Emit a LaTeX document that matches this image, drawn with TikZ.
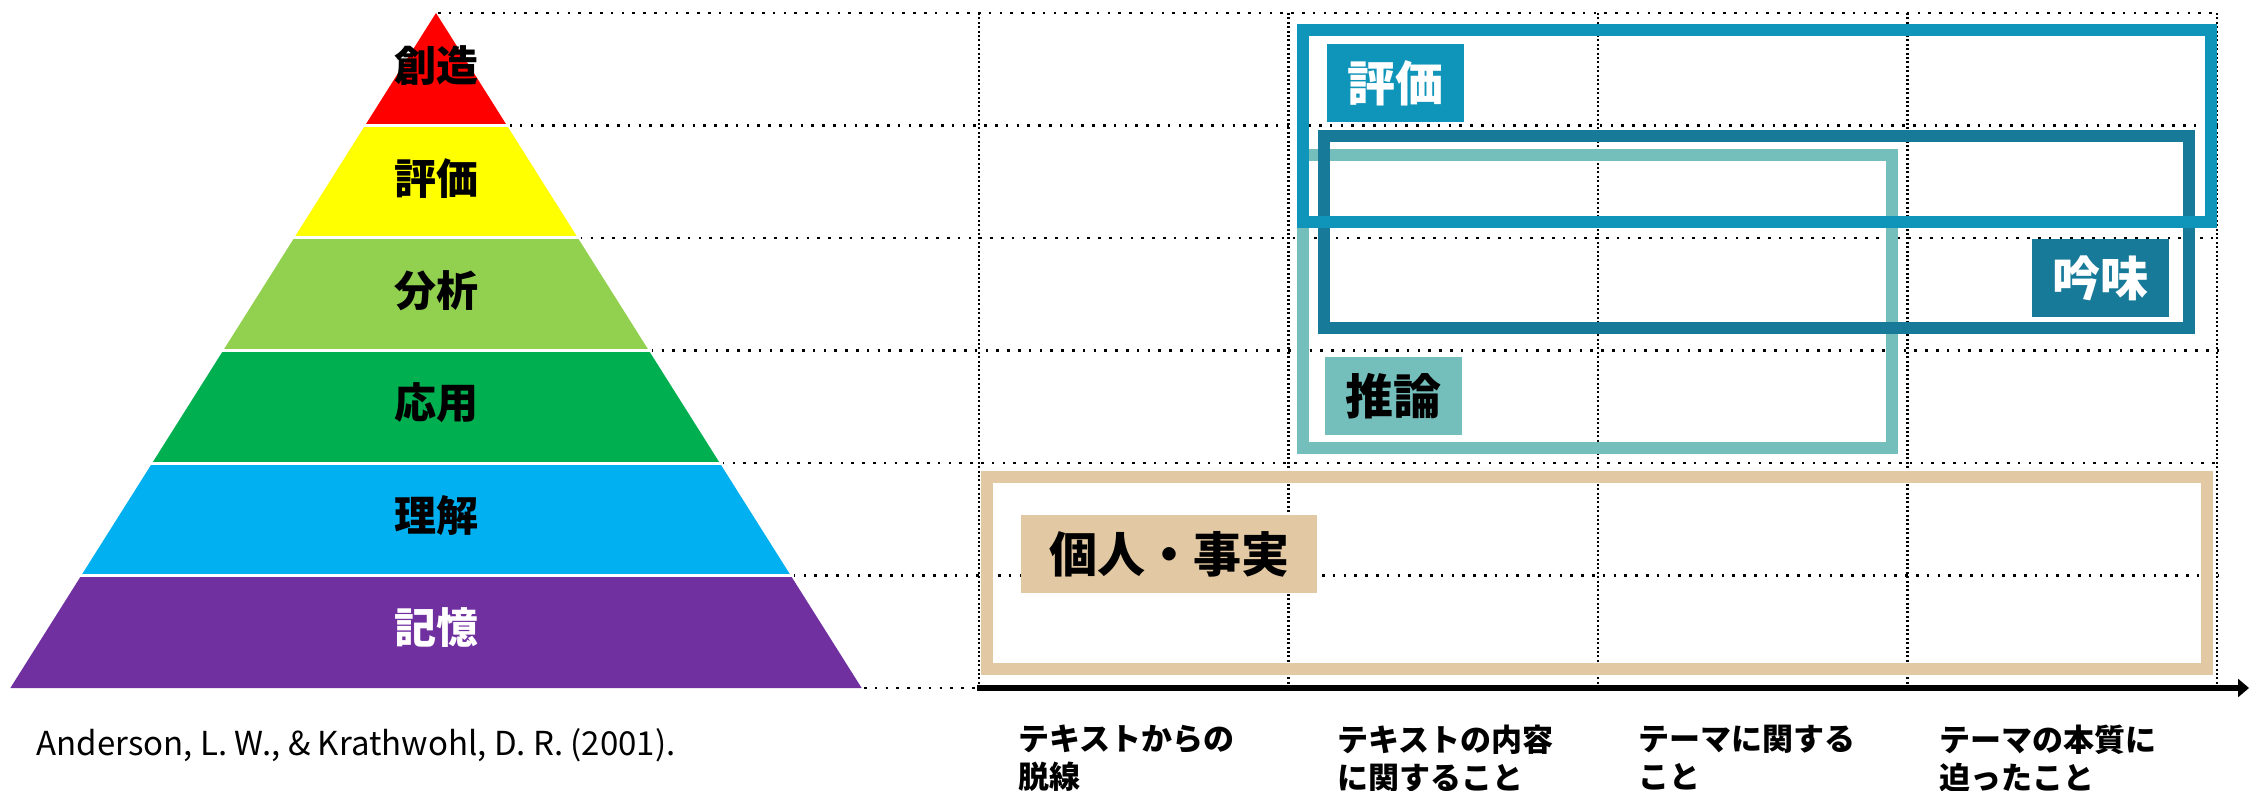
\documentclass[tikz,border=0pt]{standalone}
\usepackage{fontspec}
\setmainfont{Noto Sans CJK JP}
\usetikzlibrary{arrows.meta}
\definecolor{pRed}{HTML}{FF0000}
\definecolor{pYellow}{HTML}{FFFF00}
\definecolor{pLGreen}{HTML}{92D050}
\definecolor{pGreen}{HTML}{00B050}
\definecolor{pBlue}{HTML}{00B0F0}
\definecolor{pPurple}{HTML}{7030A0}
\definecolor{cEval}{HTML}{1095BA}
\definecolor{cGinmi}{HTML}{177A99}
\definecolor{cSuiron}{HTML}{74BEBB}
\definecolor{cTan}{HTML}{E3C9A3}
\begin{document}
\begin{tikzpicture}[x=0.5pt,y=-0.5pt,
  hdot/.style={line width=1.25pt,dash pattern=on 1.3pt off 4.1pt,black},
  vdot/.style={line width=1.1pt,dash pattern=on 1pt off 1.2pt,black},
  layerlabel/.style={font=\fontsize{21}{25}\selectfont\bfseries,inner sep=0pt},
  frame/.style={line width=6pt},
  tag/.style={minimum width=68.5pt,minimum height=39pt,inner sep=0pt,font=\fontsize{24}{28}\selectfont\bfseries},
  axislabel/.style={anchor=north west,align=left,inner sep=0pt,font=\fontsize{15.5}{19}\selectfont\bfseries}]
\useasboundingbox (0,0) rectangle (2249,791);
% grid
\foreach \i in {0,...,5}{
  \pgfmathsetmacro\yy{13+112.5*\i}
  \pgfmathsetmacro\ww{0.6306*112.5*\i}
  \draw[hdot] (436+\ww+2,\yy) -- (2219,\yy);
}
\draw[hdot] (864,688) -- (979,688);
\foreach \xx in {979,1288.5,1598,1907.5,2217}{
  \draw[vdot] (\xx,13) -- (\xx,686);
}
% pyramid
\foreach \i/\c in {0/pRed,1/pYellow,2/pLGreen,3/pGreen,4/pBlue,5/pPurple}{
  \pgfmathsetmacro\ya{13+112.5*\i}
  \pgfmathsetmacro\yb{13+112.5*(\i+1)}
  \pgfmathsetmacro\wa{0.6306*112.5*\i}
  \pgfmathsetmacro\wb{0.6306*112.5*(\i+1)}
  \fill[\c] (436-\wa,\ya) -- (436+\wa,\ya) -- (436+\wb,\yb) -- (436-\wb,\yb) -- cycle;
}
\foreach \i in {1,...,5}{
  \pgfmathsetmacro\yy{13+112.5*\i}
  \pgfmathsetmacro\ww{0.6306*112.5*\i}
  \draw[white,line width=1.5pt] (436-\ww-3,\yy) -- (436+\ww+3,\yy);
}
\node[layerlabel] (l1) at (436,66) {創造};
\node[layerlabel] (l2) at (436,178.5) {評価};
\node[layerlabel] (l3) at (436,291) {分析};
\node[layerlabel] (l4) at (436,403) {応用};
\node[layerlabel] (l5) at (436,515.5) {理解};
\node[layerlabel,white] (l6) at (436,628) {記憶};
\node[anchor=base west,inner sep=0pt,font=\fontsize{16.5}{20}\selectfont] (cite) at (36,755) {Anderson, L. W., \& Krathwohl, D. R. (2001).};
% frames
\draw[frame,cSuiron] (1303,155) rectangle (1891.5,448);
\draw[frame,cGinmi] (1323.5,136.5) rectangle (2188.5,328);
\draw[frame,cEval] (1303,30.5) rectangle (2210.5,222.5);
\draw[frame,cTan] (987,477) rectangle (2207,669);
\node[tag,fill=cEval,text=white] (tEval) at (1395.5,83) {評価};
\node[tag,fill=cGinmi,text=white] (tGinmi) at (2100.5,278) {吟味};
\node[tag,fill=cSuiron,text=black] (tSuiron) at (1393,396) {推論};
\node[tag,fill=cTan,text=black,minimum width=148pt] (tFact) at (1169,554) {個人・事実};
% axis
\coordinate (axL) at (977,688);
\coordinate (axR) at (2249,688);
\draw[line width=2.6pt,-{Triangle[length=5.5pt,width=9pt]}] (axL) -- (axR);
\node[axislabel] (a1) at (1018,725) {テキストからの\\脱線};
\node[axislabel] (a2) at (1337,725) {テキストの内容\\に関すること};
\node[axislabel] (a3) at (1638,725) {テーマに関する\\こと};
\node[axislabel] (a4) at (1939,725) {テーマの本質に\\迫ったこと};
\end{tikzpicture}
\end{document}
